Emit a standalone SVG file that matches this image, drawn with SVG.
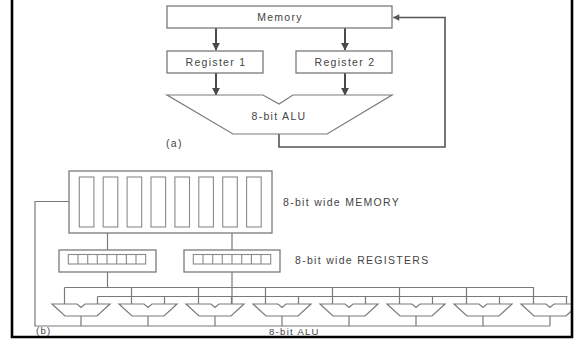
<svg xmlns="http://www.w3.org/2000/svg" width="578" height="339" viewBox="0 0 578 339">
<style>
.t{font-family:"Liberation Sans",Arial,sans-serif;font-size:10.5px;fill:#444;letter-spacing:1.3px}
.m{text-anchor:middle}
.box{fill:#fff;stroke:#7a7a7a;stroke-width:1.3}
.cell{fill:none;stroke:#8a8a8a;stroke-width:1.1}
.w{fill:none;stroke:#7a7a7a;stroke-width:1.2}
.a{fill:none;stroke:#4a4a4a;stroke-width:2}
.fb{fill:none;stroke:#555;stroke-width:1.6}
.alu{fill:#fff;stroke:#7a7a7a;stroke-width:1.2}
</style>
<defs>
<marker id="ah" viewBox="0 0 10 10" refX="9" refY="5" markerWidth="4" markerHeight="4" orient="auto" markerUnits="strokeWidth">
<path d="M0,0 L10,5 L0,10 z" fill="#4a4a4a"/>
</marker>
<marker id="ah2" viewBox="0 0 10 10" refX="9" refY="5" markerWidth="5" markerHeight="4" orient="auto" markerUnits="strokeWidth">
<path d="M0,0 L10,5 L0,10 z" fill="#555"/>
</marker>
<clipPath id="clip"><rect x="0" y="0" width="571" height="336"/></clipPath>
<g id="aluShape"><polygon points="-29,304 -4,304 0,307.5 4,304 29,304 16,316 -16,316"/></g>
</defs>
<rect width="578" height="339" fill="#fff"/>
<g clip-path="url(#clip)">
<!-- Part (a) -->
<g id="connectors-a">
<line class="a" x1="216" y1="28" x2="216" y2="50" marker-end="url(#ah)"/>
<line class="a" x1="345" y1="28" x2="345" y2="50" marker-end="url(#ah)"/>
<line class="a" x1="216" y1="73" x2="216" y2="95" marker-end="url(#ah)"/>
<line class="a" x1="345" y1="73" x2="345" y2="95" marker-end="url(#ah)"/>
<polyline class="fb" points="279,134 279,147 445,147 445,17.5 393.5,17.5" marker-end="url(#ah2)"/>
</g>
<g id="mem-a"><rect class="box" x="167" y="6" width="225" height="22"/><text class="t m" x="280" y="20.5">Memory</text></g>
<g id="reg1-a"><rect class="box" x="167" y="51" width="96" height="22"/><text class="t m" x="216" y="65.5">Register 1</text></g>
<g id="reg2-a"><rect class="box" x="296" y="51" width="96" height="22"/><text class="t m" x="345" y="65.5">Register 2</text></g>
<g id="alu-a"><polygon class="alu" points="167,95 263,95 279,104 293,95 392,95 327,134 233,134"/><text class="t m" x="279" y="119.5">8-bit ALU</text></g>
<text class="t" x="166" y="146.5">(a)</text>

<!-- Part (b) -->
<g id="connectors-b">
<polyline class="w" points="69,201.5 35,201.5 35,326 550,326"/>
<line class="w" x1="107.5" y1="233" x2="107.5" y2="250"/>
<line class="w" x1="232" y1="233" x2="232" y2="250"/>
<line class="w" x1="107.5" y1="272" x2="107.5" y2="287.5"/>
<line class="w" x1="232" y1="272" x2="232" y2="304"/>
<line class="w" x1="64.5" y1="287.5" x2="534" y2="287.5"/>
<line class="w" x1="97.5" y1="296.5" x2="567.5" y2="296.5"/>
<path class="w" d="M64.5,287.5V304M97.5,296.5V304M81,316V326
M131.5,287.5V304M164.5,296.5V304M148,316V326
M198.5,287.5V304M231.5,296.5V304M215,316V326
M265.5,287.5V304M298.5,296.5V304M282,316V326
M332.5,287.5V304M365.5,296.5V304M349,316V326
M399.5,287.5V304M432.5,296.5V304M416,316V326
M466.5,287.5V304M499.5,296.5V304M483,316V326
M533.5,287.5V304M566.5,296.5V304M550,316V326"/>
</g>
<g id="mem-b">
<rect class="box" x="69" y="171" width="203" height="62"/>
<rect class="cell" x="79.3" y="177" width="14.6" height="50"/>
<rect class="cell" x="103.2" y="177" width="14.6" height="50"/>
<rect class="cell" x="127.1" y="177" width="14.6" height="50"/>
<rect class="cell" x="151" y="177" width="14.6" height="50"/>
<rect class="cell" x="174.9" y="177" width="14.6" height="50"/>
<rect class="cell" x="198.8" y="177" width="14.6" height="50"/>
<rect class="cell" x="222.7" y="177" width="14.6" height="50"/>
<rect class="cell" x="246.6" y="177" width="14.6" height="50"/>
</g>
<text class="t" x="283" y="206">8-bit wide MEMORY</text>
<g id="reg1-b">
<rect class="box" x="59" y="250" width="97" height="22"/>
<rect class="cell" x="68.3" y="254.5" width="77.4" height="9.5"/>
<path class="cell" d="M78,254.5V264M87.7,254.5V264M97.3,254.5V264M107,254.5V264M116.7,254.5V264M126.4,254.5V264M136,254.5V264"/>
</g>
<g id="reg2-b">
<rect class="box" x="184" y="250" width="96" height="22"/>
<rect class="cell" x="193.3" y="254.5" width="77.4" height="9.5"/>
<path class="cell" d="M203,254.5V264M212.7,254.5V264M222.3,254.5V264M232,254.5V264M241.7,254.5V264M251.4,254.5V264M261,254.5V264"/>
</g>
<text class="t" x="295" y="263.7">8-bit wide REGISTERS</text>
<g id="alu1" class="alu"><use href="#aluShape" x="81"/></g>
<g id="alu2" class="alu"><use href="#aluShape" x="148"/></g>
<g id="alu3" class="alu"><use href="#aluShape" x="215"/></g>
<g id="alu4" class="alu"><use href="#aluShape" x="282"/></g>
<g id="alu5" class="alu"><use href="#aluShape" x="349"/></g>
<g id="alu6" class="alu"><use href="#aluShape" x="416"/></g>
<g id="alu7" class="alu"><use href="#aluShape" x="483"/></g>
<g id="alu8" class="alu"><use href="#aluShape" x="550"/></g>
<text class="t" x="36" y="333.5" style="font-size:9.5px">(b)</text>
<text class="t" x="269" y="334.8" style="font-size:9.5px">8-bit ALU</text>
</g>
<g id="frame" fill="none" stroke="#000" stroke-width="2.6">
<polyline points="12,0 12,337 572,337 572,0"/>
</g>
</svg>
